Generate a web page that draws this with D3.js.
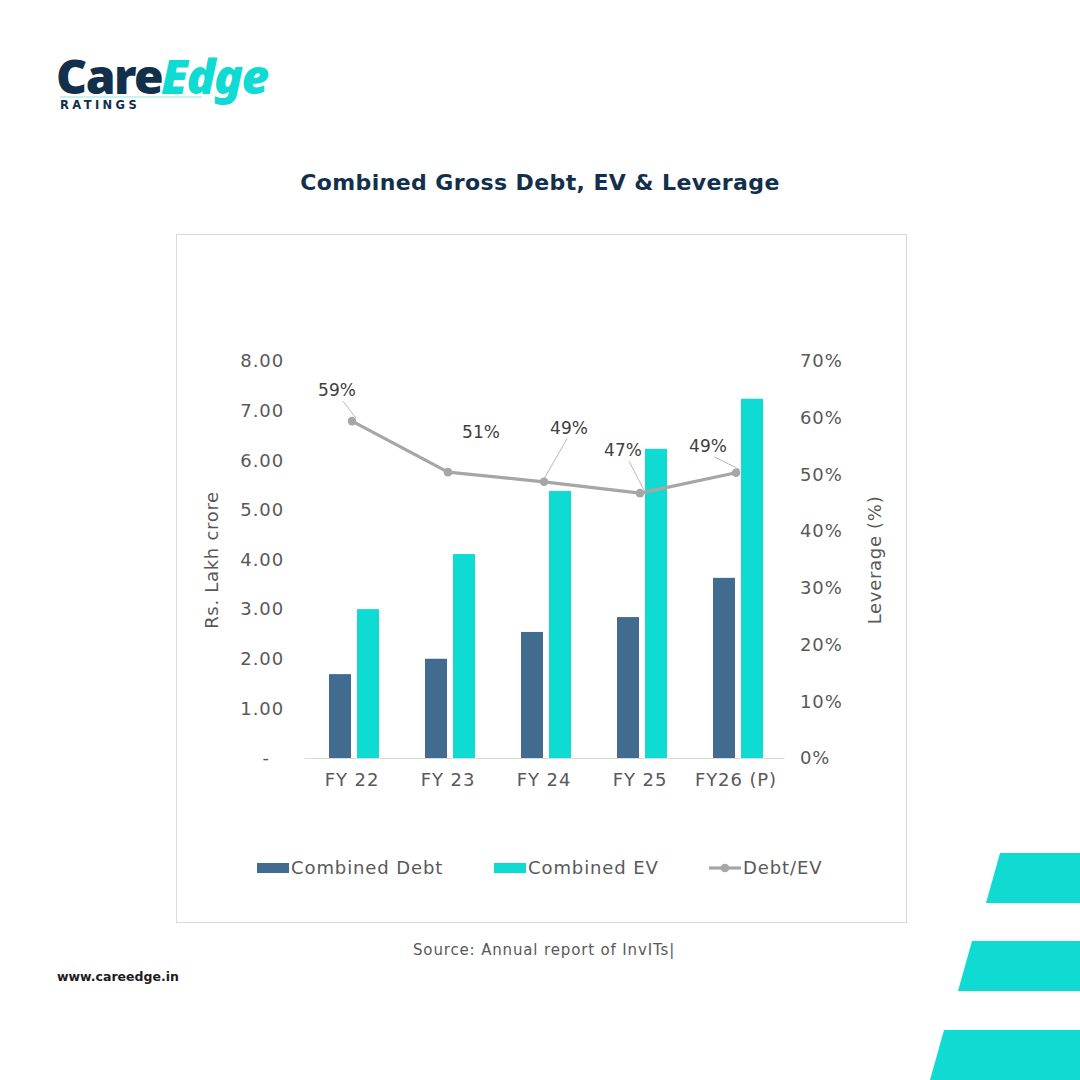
<!DOCTYPE html>
<html>
<head>
<meta charset="utf-8">
<script src="https://cdn.jsdelivr.net/npm/d3@7"></script>
<style>
  html, body { margin: 0; padding: 0; background: #ffffff; }
  svg { display: block; font-family: "DejaVu Sans", "Noto Sans", sans-serif; }
</style>
</head>
<body>
<div id="chart"></div>
<script>
// data
const years = ["FY 22", "FY 23", "FY 24", "FY 25", "FY26 (P)"];
const combinedDebt = [1.69, 2.00, 2.54, 2.84, 3.63];
const combinedEV = [3.00, 4.11, 5.38, 6.23, 7.24];
const debtToEV = [0.594, 0.504, 0.487, 0.467, 0.503];
const leverageLabels = ["59%", "51%", "49%", "47%", "49%"];
const leftTicks = [0, 1, 2, 3, 4, 5, 6, 7, 8];
const rightTicks = [0, 0.1, 0.2, 0.3, 0.4, 0.5, 0.6, 0.7];

// label offsets from each point (layout only)
const labelLayout = [
  { dx: -15, dy: -31, lead: true },
  { dx: 33, dy: -40, lead: false },
  { dx: 25, dy: -54, lead: true },
  { dx: -17, dy: -43, lead: true },
  { dx: -28, dy: -27, lead: true }
];

const W = 1080, H = 1080;
const navy = "#12304b";
const teal = "#10dbd3";
const steel = "#416c8f";
const grey = "#a6a6a6";
const tickCol = "#595959";
const font = "'DejaVu Sans', 'Noto Sans', sans-serif";
const ls = "0.9px";

const svg = d3.select("#chart").append("svg")
  .attr("width", W).attr("height", H);

svg.append("rect").attr("width", W).attr("height", H).attr("fill", "#fff");

// ---- logo ----
const logo = svg.append("g");
logo.append("text")
  .attr("x", 56).attr("y", 94)
  .style("font-family", "'Noto Sans', sans-serif")
  .style("font-size", "48px").style("font-weight", 900)
  .style("letter-spacing", "-1.5px")
  .attr("fill", navy)
  .text("Care");
logo.append("text")
  .attr("x", 161).attr("y", 94)
  .style("font-family", "'Noto Sans', sans-serif")
  .style("font-size", "48px").style("font-weight", 900)
  .style("font-style", "italic")
  .style("letter-spacing", "-1.5px")
  .attr("fill", teal)
  .text("Edge");
logo.append("line")
  .attr("x1", 60).attr("x2", 202).attr("y1", 97).attr("y2", 97)
  .attr("stroke", "#8fe9e5").attr("stroke-width", 1.2);
logo.append("text")
  .attr("x", 60).attr("y", 109)
  .style("font-size", "11.5px").style("font-weight", 700)
  .style("letter-spacing", "3.4px")
  .attr("fill", navy).text("RATINGS");

// ---- title ----
svg.append("text")
  .attr("x", 540).attr("y", 190)
  .attr("text-anchor", "middle")
  .style("font-size", "22px").style("font-weight", 700)
  .style("letter-spacing", "0.4px")
  .attr("fill", navy)
  .text("Combined Gross Debt, EV & Leverage");

// ---- frame ----
svg.append("rect")
  .attr("x", 176.5).attr("y", 234.5).attr("width", 730).attr("height", 688)
  .attr("fill", "none").attr("stroke", "#d9d9d9").attr("stroke-width", 1);

// ---- scales ----
const x = d3.scaleBand().domain(years).range([304, 784]).padding(0);
const xSub = d3.scaleBand().domain(["debt", "ev"]).range([25, 75]).paddingInner(6 / 28);
const yL = d3.scaleLinear().domain([0, 8]).range([758, 361]);
const yR = d3.scaleLinear().domain([0, 0.7]).range([758, 361]);

// ---- axes ----
const axL = svg.append("g")
  .attr("transform", "translate(291,0)")
  .call(d3.axisLeft(yL).tickValues(leftTicks).tickSize(0).tickPadding(7)
    .tickFormat(d => d === 0 ? "-" : d3.format(".2f")(d)));
axL.select(".domain").remove();
axL.selectAll("text").style("font-size", "18px").attr("fill", tickCol)
  .style("letter-spacing", ls).style("font-family", font);
axL.selectAll("text").filter(d => d === 0).attr("dx", "-14px");

const axR = svg.append("g")
  .attr("transform", "translate(793,0)")
  .call(d3.axisRight(yR).tickValues(rightTicks).tickSize(0).tickPadding(7)
    .tickFormat(d3.format(".0%")));
axR.select(".domain").remove();
axR.selectAll("text").style("font-size", "18px").attr("fill", tickCol)
  .style("letter-spacing", ls).style("font-family", font);

const axB = svg.append("g")
  .attr("transform", "translate(0,758)")
  .call(d3.axisBottom(x).tickSize(0).tickPadding(15));
axB.select(".domain").attr("stroke", "#d9d9d9").attr("stroke-width", 1);
axB.selectAll("text").style("font-size", "18px").attr("fill", tickCol)
  .style("letter-spacing", ls).style("font-family", font);

// axis titles
svg.append("text")
  .attr("transform", "translate(218,560) rotate(-90)")
  .attr("text-anchor", "middle")
  .style("font-size", "18px").style("letter-spacing", "0.7px").attr("fill", tickCol)
  .text("Rs. Lakh crore");
svg.append("text")
  .attr("transform", "translate(881,560) rotate(-90)")
  .attr("text-anchor", "middle")
  .style("font-size", "18px").style("letter-spacing", "0.7px").attr("fill", tickCol)
  .text("Leverage (%)");

// ---- bars ----
const groups = svg.append("g").selectAll("g")
  .data(years)
  .join("g")
  .attr("transform", d => `translate(${x(d)},0)`);

groups.append("rect")
  .attr("x", xSub("debt"))
  .attr("width", xSub.bandwidth())
  .attr("y", (d, i) => yL(combinedDebt[i]))
  .attr("height", (d, i) => yL(0) - yL(combinedDebt[i]))
  .attr("fill", steel);

groups.append("rect")
  .attr("x", xSub("ev"))
  .attr("width", xSub.bandwidth())
  .attr("y", (d, i) => yL(combinedEV[i]))
  .attr("height", (d, i) => yL(0) - yL(combinedEV[i]))
  .attr("fill", teal);

// ---- leverage line ----
const cx = d => x(d) + x.bandwidth() / 2;
const pts = years.map((d, i) => [cx(d), yR(debtToEV[i])]);

svg.append("path")
  .datum(pts)
  .attr("fill", "none")
  .attr("stroke", grey)
  .attr("stroke-width", 3.2)
  .attr("stroke-linejoin", "round")
  .attr("d", d3.line());

svg.append("g").selectAll("circle")
  .data(pts)
  .join("circle")
  .attr("cx", d => d[0]).attr("cy", d => d[1])
  .attr("r", 4.3)
  .attr("fill", grey);

// data labels with leader lines
const lab = svg.append("g");
pts.forEach((p, i) => {
  const o = labelLayout[i];
  const lx = p[0] + o.dx, ly = p[1] + o.dy;
  if (o.lead) {
    const ex = lx + (o.dx < 0 ? 6 : -2);
    const ey = ly + 11;
    lab.append("line")
      .attr("x1", ex).attr("y1", ey)
      .attr("x2", p[0] + (o.dx < 0 ? 4 : 0)).attr("y2", p[1] - 3)
      .attr("stroke", "#a6a6a6").attr("stroke-width", 0.8);
  }
  lab.append("text")
    .attr("x", lx).attr("y", ly)
    .attr("text-anchor", "middle")
    .attr("dy", "0.35em")
    .style("font-size", "17px").attr("fill", "#404040")
    .text(leverageLabels[i]);
});

// ---- legend ----
const lg = svg.append("g").style("font-size", "18px").style("letter-spacing", ls);
lg.append("rect").attr("x", 257).attr("y", 863).attr("width", 32).attr("height", 10).attr("fill", steel);
lg.append("text").attr("x", 291).attr("y", 874).attr("fill", tickCol).text("Combined Debt");
lg.append("rect").attr("x", 494).attr("y", 863).attr("width", 32).attr("height", 10).attr("fill", teal);
lg.append("text").attr("x", 528).attr("y", 874).attr("fill", tickCol).text("Combined EV");
lg.append("line").attr("x1", 709).attr("x2", 741).attr("y1", 868).attr("y2", 868)
  .attr("stroke", grey).attr("stroke-width", 3.2);
lg.append("circle").attr("cx", 725).attr("cy", 868).attr("r", 4.3).attr("fill", grey);
lg.append("text").attr("x", 743).attr("y", 874).attr("fill", tickCol).text("Debt/EV");

// ---- source & site ----
svg.append("text")
  .attr("x", 413).attr("y", 955)
  .style("font-size", "15px").style("letter-spacing", "0.85px").attr("fill", "#595959")
  .text("Source: Annual report of InvITs|");

svg.append("text")
  .attr("x", 57).attr("y", 981)
  .style("font-size", "12.5px").style("font-weight", 700)
  .attr("fill", "#1c1c1c")
  .text("www.careedge.in");

// ---- corner decoration ----
const stripes = [[853, 1000, 986], [941, 972, 958], [1030, 944, 930]];
svg.append("g").selectAll("path")
  .data(stripes)
  .join("path")
  .attr("d", d => `M${d[1]},${d[0]} L1080,${d[0]} L1080,${d[0] + 50} L${d[2]},${d[0] + 50} Z`)
  .attr("fill", teal);
</script>
</body>
</html>
